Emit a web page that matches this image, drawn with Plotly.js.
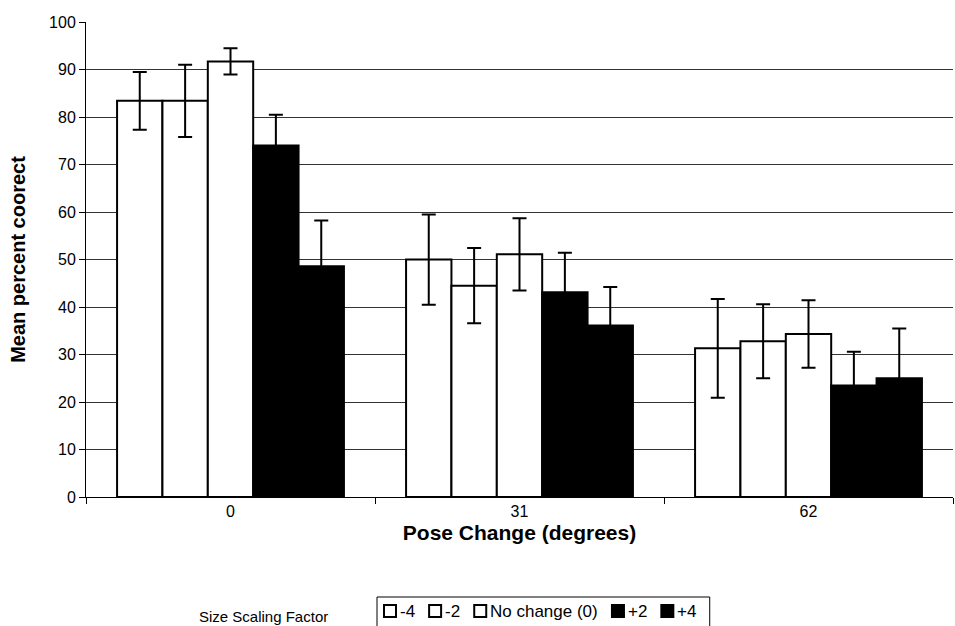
<!DOCTYPE html>
<html>
<head>
<meta charset="utf-8">
<script src="https://cdn.plot.ly/plotly-3.0.1.min.js"></script>
<style>html,body{margin:0;padding:0;background:#fff;}#chart{width:955px;height:626px;}</style>
</head>
<body>
<div id="chart"></div>
<script>
const categories = ['0', '31', '62'];
const seriesNames = ['-4', '-2', 'No change (0)', '+2', '+4'];
const seriesFill = ['#ffffff', '#ffffff', '#ffffff', '#000000', '#000000'];
const valsM4 = [83.4, 50.0, 31.3];
const valsM2 = [83.4, 44.5, 32.8];
const vals0 = [91.7, 51.1, 34.3];
const valsP2 = [74.0, 43.1, 23.5];
const valsP4 = [48.6, 36.1, 25.0];
const errM4 = [6.1, 9.5, 10.4];
const errM2 = [7.6, 7.9, 7.8];
const err0 = [2.75, 7.6, 7.1];
const errP2 = [6.5, 8.3, 7.1];
const errP4 = [9.6, 8.1, 10.5];
const legendTitle = 'Size Scaling Factor';

const allVals = [valsM4, valsM2, vals0, valsP2, valsP4];
const allErr = [errM4, errM2, err0, errP2, errP4];

const W = 955, H = 626;
const M = {l: 86, r: 2, t: 22, b: 129};
const PW = W - M.l - M.r, PH = H - M.t - M.b;
const FONT = 'Arial, "Liberation Sans", sans-serif';
const LEG_SIZE = 17;

const traces = allVals.map((v, i) => ({
  type: 'bar',
  name: seriesNames[i],
  x: categories,
  y: v,
  showlegend: false,
  marker: {color: seriesFill[i], line: {color: '#000', width: 2}},
  error_y: {type: 'data', array: allErr[i], visible: true, color: '#000', thickness: 2, width: 7}
}));

// custom legend (Excel-like compact layout), measured with canvas text metrics
const ctx = document.createElement('canvas').getContext('2d');
ctx.font = LEG_SIZE + 'px Arial, "Liberation Sans", sans-serif';
const px2x = p => (p - M.l) / PW;
const py2y = p => (H - M.b - p) / PH;
const shapes = [], annotations = [];
const boxLeft = 377, boxTop = 597, boxBottom = 640;
const rowY = 611, sq = 12, gapSqText = 4, gapItem = 14, pad = 7;
let cx = boxLeft + pad;
seriesNames.forEach((nm, i) => {
  shapes.push({type: 'rect', xref: 'paper', yref: 'paper',
    x0: px2x(cx), x1: px2x(cx + sq), y0: py2y(rowY + sq / 2), y1: py2y(rowY - sq / 2),
    fillcolor: seriesFill[i], line: {color: '#000', width: 2}});
  cx += sq + gapSqText;
  annotations.push({text: nm, xref: 'paper', yref: 'paper', x: px2x(cx), y: py2y(rowY),
    xanchor: 'left', yanchor: 'middle', showarrow: false, font: {size: LEG_SIZE}, xshift: -2});
  cx += ctx.measureText(nm).width + (i < seriesNames.length - 1 ? gapItem : 0);
});
const boxRight = cx + pad + 6;
shapes.push({type: 'rect', xref: 'paper', yref: 'paper',
  x0: px2x(boxLeft), x1: px2x(boxRight), y0: py2y(boxBottom), y1: py2y(boxTop),
  fillcolor: 'rgba(0,0,0,0)', line: {color: '#000', width: 1}});
annotations.push({text: legendTitle, xref: 'paper', yref: 'paper', x: px2x(330), y: py2y(616),
  xanchor: 'right', yanchor: 'middle', showarrow: false, font: {size: 15}});

const layout = {
  width: W, height: H,
  margin: {l: M.l, r: M.r, t: M.t, b: M.b, autoexpand: false},
  paper_bgcolor: '#fff', plot_bgcolor: '#fff',
  font: {family: FONT, color: '#000', size: 16},
  barmode: 'group', bargap: 0.215, bargroupgap: 0,
  showlegend: false,
  xaxis: {type: 'category', showline: true, linecolor: '#000', linewidth: 1,
          ticks: 'outside', tickson: 'boundaries', ticklen: 6, tickcolor: '#000',
          title: {text: '<b>Pose Change (degrees)</b>', font: {size: 21}, standoff: 6},
          tickfont: {size: 16}},
  yaxis: {range: [0, 100], dtick: 10, showline: true, linecolor: '#000', linewidth: 1,
          ticks: 'outside', ticklen: 6, tickcolor: '#000', showgrid: true,
          gridcolor: '#333', gridwidth: 1, zeroline: false,
          title: {text: '<b>Mean percent coorect</b>', font: {size: 20}, standoff: 18},
          tickfont: {size: 16}},
  shapes: shapes,
  annotations: annotations
};

Plotly.newPlot('chart', traces, layout, {displayModeBar: false});
</script>
</body>
</html>
